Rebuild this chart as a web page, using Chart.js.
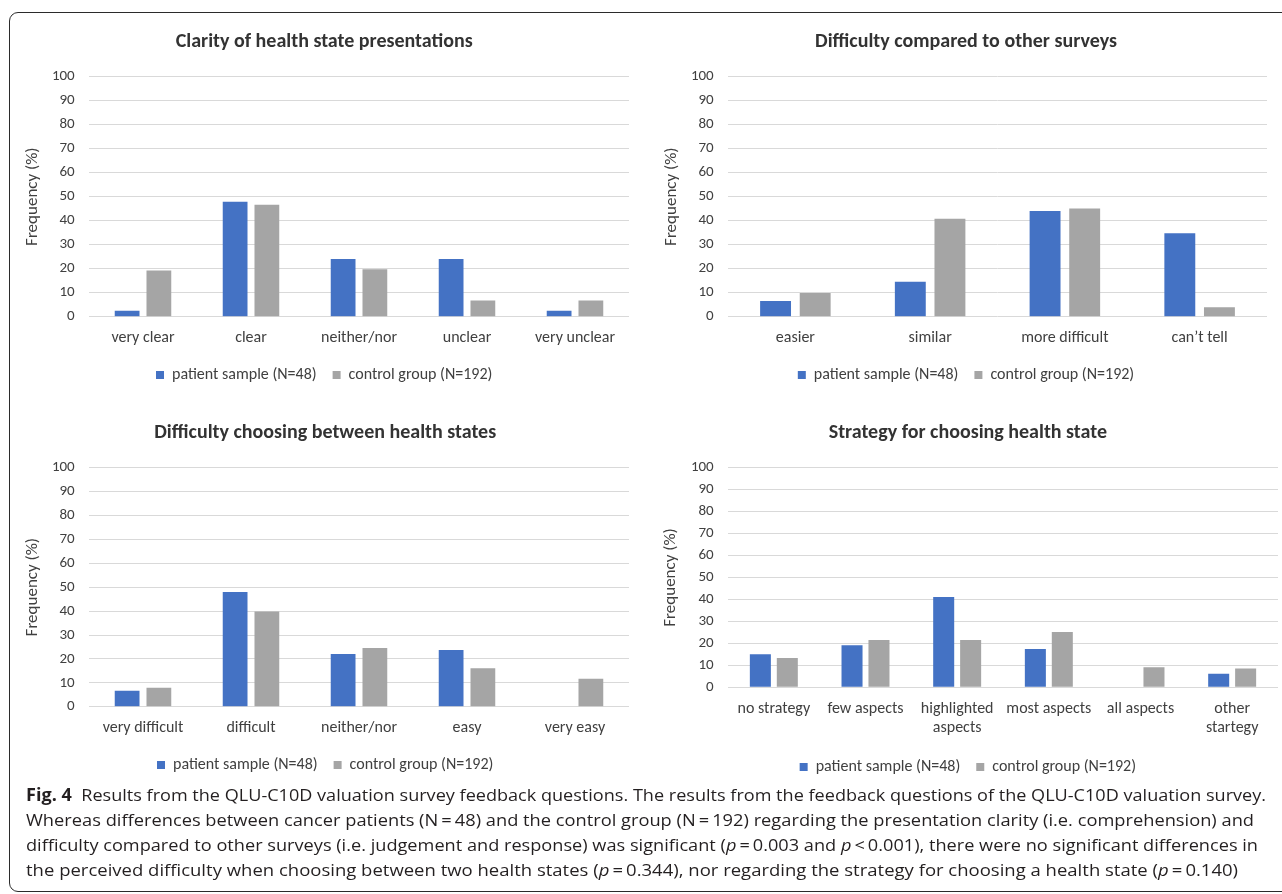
<!DOCTYPE html>
<html>
<head>
<meta charset="utf-8">
<script src="https://cdn.jsdelivr.net/npm/chart.js@4.4.1/dist/chart.umd.min.js"></script>
<style>
  html, body { margin: 0; padding: 0; background: #ffffff; width: 1282px; height: 894px; overflow: hidden; }
  #frame { position: absolute; left: 9px; top: 12px; width: 1400px; height: 880px;
           border: 1px solid #2b2b2b; border-radius: 9px; box-sizing: border-box; }
  canvas { position: absolute; }
  .cap { position: absolute; left: 26px; white-space: nowrap; font-family: 'Open Sans', sans-serif;
         font-size: 17px; line-height: 25px; color: #231f20; transform-origin: 0 50%; }
  .cap b { font-weight: 700; }
</style>
</head>
<body>
<div id="frame"></div>
<canvas id="c1" width="629" height="373" style="left:0px;top:20px"></canvas>
<canvas id="c2" width="627" height="373" style="left:640px;top:20px"></canvas>
<canvas id="c3" width="629" height="372" style="left:0px;top:411px"></canvas>
<canvas id="c4" width="638" height="374" style="left:640px;top:411px"></canvas>

<div class="cap" id="l1" style="top:782px"><b>Fig. 4</b>&nbsp; Results from the QLU-C10D valuation survey feedback questions. The results from the feedback questions of the QLU-C10D valuation survey.</div>
<div class="cap" id="l2" style="top:807px">Whereas differences between cancer patients (N&thinsp;=&thinsp;48) and the control group (N&thinsp;=&thinsp;192) regarding the presentation clarity (i.e. comprehension) and</div>
<div class="cap" id="l3" style="top:832px">difficulty compared to other surveys (i.e. judgement and response) was significant (<i>p</i>&thinsp;=&thinsp;0.003 and <i>p</i>&thinsp;&lt;&thinsp;0.001), there were no significant differences in</div>
<div class="cap" id="l4" style="top:857px">the perceived difficulty when choosing between two health states (<i>p</i>&thinsp;=&thinsp;0.344), nor regarding the strategy for choosing a health state (<i>p</i>&thinsp;=&thinsp;0.140)</div>

<script>
// ---- data -------------------------------------------------------------
const seriesNames = ['patient sample (N=48)', 'control group (N=192)'];

const clarityTitle = 'Clarity of health state presentations';
const clarityLabels = ['very clear', 'clear', 'neither/nor', 'unclear', 'very unclear'];
const clarityPatient = [2.5, 47.9, 24.0, 24.0, 2.5];
const clarityControl = [19.2, 46.6, 19.8, 6.8, 6.8];

const surveysTitle = 'Difficulty compared to other surveys';
const surveysLabels = ['easier', 'similar', 'more difficult', 'can\u2019t tell'];
const surveysPatient = [6.5, 14.6, 44.0, 34.8];
const surveysControl = [9.9, 40.8, 45.1, 3.9];

const choosingTitle = 'Difficulty choosing between health states';
const choosingLabels = ['very difficult', 'difficult', 'neither/nor', 'easy', 'very easy'];
const choosingPatient = [6.7, 48.0, 22.0, 23.7, 0];
const choosingControl = [7.9, 39.8, 24.6, 16.1, 11.7];

const strategyTitle = 'Strategy for choosing health state';
const strategyLabels = ['no strategy', 'few aspects', ['highlighted', 'aspects'], 'most aspects', 'all aspects', ['other', 'startegy']];
const strategyPatient = [15.0, 19.1, 41.1, 17.4, 0, 6.2];
const strategyControl = [13.3, 21.5, 21.5, 25.2, 9.1, 8.6];

const yTicks = { min: 0, max: 100, step: 10 };
const yAxisTitle = 'Frequency (%)';

// ---- styling ----------------------------------------------------------
const FONT = "Carlito, Calibri, Lato, sans-serif";
const BLUE = '#4472C4';
const GREY = '#A5A5A5';
const TEXT = '#404040';
const GRID = '#D9D9D9';
const Y_TITLE_SIZE = 17;

function barChart(id, title, labels, patient, control, layout) {
  const ctx = document.getElementById(id);
  const barOpts = { borderWidth: 0, categoryPercentage: 0.588, barPercentage: 0.78 };
  return new Chart(ctx, {
    type: 'bar',
    data: {
      labels: labels,
      datasets: [
        Object.assign({ label: seriesNames[0], data: patient, backgroundColor: BLUE }, barOpts),
        Object.assign({ label: seriesNames[1], data: control, backgroundColor: GREY }, barOpts)
      ]
    },
    options: {
      responsive: false,
      animation: false,
      devicePixelRatio: 1,
      layout: { padding: { left: layout.padLeft, right: 0, top: 0, bottom: 0 } },
      plugins: {
        tooltip: { enabled: false },
        title: {
          display: true, text: title, color: '#333333',
          font: { family: FONT, size: 20, weight: 'bold', lineHeight: 1.2 },
          padding: { top: 9.7, bottom: 23 }
        },
        legend: {
          position: 'bottom',
          labels: {
            boxWidth: 8, boxHeight: 8, padding: 16, color: TEXT,
            font: { family: FONT, size: 16 }
          }
        }
      },
      scales: {
        x: {
          grid: { display: false, drawTicks: false },
          border: { display: false },
          ticks: { color: TEXT, padding: 12, maxRotation: 0, autoSkip: false,
                   font: { family: FONT, size: 16, lineHeight: 1.19 } },
          afterFit: s => { s.height = layout.xHeight; }
        },
        y: {
          min: yTicks.min, max: yTicks.max,
          grid: { color: GRID, lineWidth: 1, drawTicks: false },
          border: { display: false },
          ticks: { stepSize: yTicks.step, color: TEXT, padding: 14.3,
                   font: { family: FONT, size: 15 } },
          title: { display: true, text: yAxisTitle, color: TEXT,
                   font: { family: FONT, size: Y_TITLE_SIZE, lineHeight: 1 },
                   padding: { top: layout.titleOffset - Y_TITLE_SIZE / 2, bottom: 0 } },
          afterFit: s => { s.width = layout.yWidth; }
        }
      }
    }
  });
}

barChart('c1', clarityTitle, clarityLabels, clarityPatient, clarityControl,
         { padLeft: 19.4, yWidth: 69.6, xHeight: 34.3, titleOffset: 13.3 });
barChart('c2', surveysTitle, surveysLabels, surveysPatient, surveysControl,
         { padLeft: 25, yWidth: 63, xHeight: 34.3, titleOffset: 6.5 });
barChart('c3', choosingTitle, choosingLabels, choosingPatient, choosingControl,
         { padLeft: 21.4, yWidth: 67.6, xHeight: 34.3, titleOffset: 11.3 });
barChart('c4', strategyTitle, strategyLabels, strategyPatient, strategyControl,
         { padLeft: 17.7, yWidth: 70.3, xHeight: 55.7, titleOffset: 13.3 });

// ---- caption: each line is stretched to its typeset width ---------------
const captionRightEdges = [1266, 1254, 1258, 1238];
['l1', 'l2', 'l3', 'l4'].forEach((id, i) => {
  const el = document.getElementById(id);
  const w = el.getBoundingClientRect().width;
  const target = captionRightEdges[i] - 26;
  el.style.transform = 'scaleX(' + (target / w).toFixed(4) + ')';
});
</script>
</body>
</html>
